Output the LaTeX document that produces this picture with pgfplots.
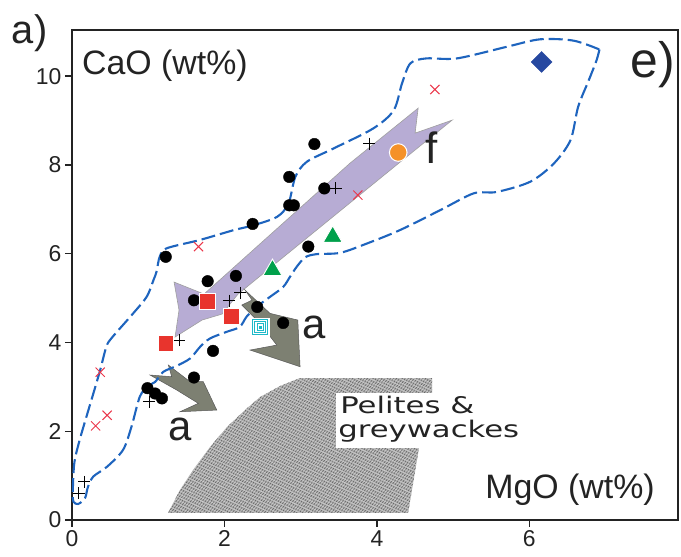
\documentclass[border=0pt]{standalone}
\usepackage{fontspec}
\setmainfont{Liberation Sans}
\newfontfamily\widefont{DejaVu Sans}
\usepackage{graphicx}
\usepackage{pgfplots}
\pgfplotsset{compat=1.18}
\usetikzlibrary{patterns.meta}

\definecolor{envblue}{RGB}{30,100,190}
\definecolor{bandpurple}{RGB}{183,172,212}
\definecolor{arrowgray}{RGB}{125,128,114}
\definecolor{xred}{RGB}{235,55,75}
\definecolor{sqred}{RGB}{232,52,45}
\definecolor{trigreen}{RGB}{0,160,75}
\definecolor{dotorange}{RGB}{245,145,40}
\definecolor{diamblue}{RGB}{38,72,160}
\definecolor{ringcyan}{RGB}{30,185,200}
\definecolor{ink}{RGB}{35,35,35}

\begin{document}
\begin{tikzpicture}
\begin{axis}[
  width=606bp, height=490bp, scale only axis,
  xmin=0, xmax=7.95, ymin=0, ymax=11.04,
  xtick={0,2,4,6}, ytick={0,2,4,6,8,10},
  tick pos=left, tick align=outside, major tick length=7bp,
  axis line style={line width=1.4bp, draw=ink},
  tick style={line width=1.4bp, draw=ink},
  ticklabel style={font=\fontsize{23}{23}\selectfont, text=ink},
  /pgf/number format/assume math mode=true,
  clip=false,
]
\coordinate (bbsw) at (rel axis cs:0,0);
\coordinate (bbne) at (rel axis cs:1,1);

% pelites & greywackes field, mottled fill
\addplot[draw=none, fill=black!30,
  postaction={pattern={Lines[angle=55,distance=2.4pt,line width=0.6pt]}, pattern color=black!62},
  postaction={pattern={Lines[angle=-25,distance=3.1pt,line width=0.7pt]}, pattern color=white!80!black}]
  coordinates {(1.260,0.158) (1.417,0.676) (1.588,1.126) (1.811,1.644) (2.034,2.095)
    (2.270,2.477) (2.467,2.770) (2.730,3.018) (2.992,3.198) (4.724,3.198)
    (4.724,2.860) (4.554,1.644) (4.409,0.158)} -- cycle;
\addplot[draw=none, fill=white]
  coordinates {(3.465,2.860) (4.90,2.860) (4.90,1.622) (3.465,1.622)} -- cycle;

% trend f
\addplot[draw=gray!75, line width=0.6bp, fill=bandpurple]
  coordinates {(4.541,9.279) (3.648,8.041) (1.732,5.090) (1.339,5.360) (1.404,4.730)
    (1.352,4.122) (1.706,4.505) (1.969,4.640) (2.178,5.090) (4.304,8.063)
    (4.987,9.009) (4.501,8.716)} -- cycle;

% trends a
\addplot[draw=gray!70!black, line width=0.5bp, fill=arrowgray]
  coordinates {(2.270,5.180) (2.598,4.655) (2.962,4.505) (2.992,3.453) (2.336,3.829)
    (2.686,3.941) (2.467,4.430) (2.227,4.842) (2.362,4.955)} -- cycle;
\addplot[draw=gray!70!black, line width=0.5bp, fill=arrowgray]
  coordinates {(1.264,3.491) (1.549,3.115) (1.723,3.115) (1.899,2.477) (1.417,2.439)
    (1.657,2.628) (1.374,2.928) (1.024,3.266) (1.308,3.228)} -- cycle;

% field e
\addplot[envblue, line width=2.1bp, smooth, dash pattern=on 14bp off 5bp]
  coordinates {(6.92,10.60) (6.88,10.35) (6.78,9.91) (6.64,9.31) (6.54,8.56) (6.32,8.03)
    (6.01,7.62) (5.57,7.39) (5.27,7.36) (4.83,6.98) (4.30,6.53) (3.87,6.23)
    (3.52,6.02) (3.21,5.99) (3.06,5.92) (2.95,5.71) (2.86,5.48) (2.77,5.25)
    (2.60,5.03) (2.42,4.80) (2.29,4.58) (2.20,4.35) (2.03,4.24) (1.81,4.09)
    (1.68,3.90) (1.55,3.64) (1.37,3.47) (1.20,3.34) (1.09,3.11) (1.00,3.02)
    (0.89,2.78) (0.78,2.10) (0.67,1.58) (0.46,1.20) (0.28,0.98) (0.21,0.75)
    (0.17,0.49) (0.08,0.36) (0.02,0.41) (0.01,0.60) (0.03,1.28) (0.10,1.80)
    (0.19,2.33) (0.28,2.85) (0.37,3.38) (0.45,3.90) (0.52,4.10) (0.80,4.65)
    (0.98,5.03) (1.07,5.41) (1.11,5.60) (1.15,5.93) (1.24,6.12) (1.68,6.31)
    (2.12,6.53) (2.38,6.64) (2.69,6.83) (2.84,7.13) (2.93,7.73) (3.08,8.07)
    (3.43,8.37) (3.95,8.82) (4.22,9.23) (4.33,9.84) (4.44,10.29) (4.65,10.40)
    (5.05,10.40) (5.70,10.66) (6.14,10.83) (6.58,10.80) (6.92,10.60)};

% samples
\addplot[only marks, mark=*, mark size=5.8bp, black] coordinates {
  (1.23,5.93) (1.78,5.38) (2.15,5.50) (1.60,4.95) (2.43,4.80) (2.77,4.44)
  (1.85,3.81) (1.60,3.21) (0.99,2.97) (1.09,2.85) (1.18,2.74) (2.37,6.67)
  (2.85,7.09) (2.91,7.09) (2.85,7.73) (3.18,8.47) (3.31,7.47) (3.10,6.16)};
\addplot[only marks, mark=+, mark size=6bp, black, line width=0.9bp] coordinates {
  (3.46,7.47) (3.90,8.48) (2.06,4.94) (2.21,5.12) (1.41,4.05) (1.01,2.66)
  (0.16,0.86) (0.09,0.60)};
\addplot[only marks, mark=x, mark size=6.5bp, xred, line width=1bp] coordinates {
  (1.66,6.16) (4.76,9.70) (3.75,7.32) (0.37,3.33) (0.46,2.36) (0.31,2.12)};
\addplot[only marks, mark=square*, mark size=7.8bp, draw=white, fill=sqred, line width=0.9bp]
  coordinates {(1.78,4.92) (2.09,4.59) (1.23,3.98)};
\addplot[only marks, mark=triangle*, mark size=11bp, draw=white, fill=trigreen, line width=0.9bp]
  coordinates {(3.42,6.38) (2.63,5.63)};
\addplot[only marks, mark=*, mark size=8.8bp, draw=white, fill=dotorange, line width=1bp]
  coordinates {(4.28,8.28)};
\addplot[only marks, mark=square*, mark options={rotate=45}, mark size=7.4bp,
  draw=diamblue, fill=diamblue] coordinates {(6.16,10.32)};
\addplot[only marks, mark=square*, mark size=9bp, draw=white, fill=white]
  coordinates {(2.47,4.35)};
\addplot[only marks, mark=square, mark size=7.6bp, ringcyan, line width=0.9bp]
  coordinates {(2.47,4.35)};
\addplot[only marks, mark=square, mark size=5.4bp, ringcyan, line width=0.9bp]
  coordinates {(2.47,4.35)};
\addplot[only marks, mark=square, mark size=3.2bp, ringcyan, line width=0.9bp]
  coordinates {(2.47,4.35)};
\addplot[only marks, mark=square*, mark size=1.2bp, ringcyan]
  coordinates {(2.47,4.35)};

% labels
\node[anchor=base west, inner sep=0pt, text=ink, font=\fontsize{34}{34}\selectfont]
  at (axis cs:0.131,10.045) {CaO (wt\%)};
\node[anchor=base west, inner sep=0pt, text=ink, font=\fontsize{34}{34}\selectfont]
  at (axis cs:5.42,0.495) {MgO (wt\%)};
\node[anchor=base west, inner sep=0pt, text=ink, font=\fontsize{40}{40}\selectfont]
  at (axis cs:-0.791,10.736) {a)};
\node[anchor=base west, inner sep=0pt, text=ink, font=\fontsize{50}{50}\selectfont]
  at (axis cs:7.323,9.977) {e)};
\node[anchor=base west, inner sep=0pt, text=ink, font=\fontsize{44}{44}\selectfont]
  at (axis cs:4.633,8.03) {f};
\node[anchor=base west, inner sep=0pt, text=ink, font=\fontsize{42}{42}\selectfont]
  at (axis cs:3.027,4.092) {a};
\node[anchor=base west, inner sep=0pt, text=ink, font=\fontsize{42}{42}\selectfont]
  at (axis cs:1.264,1.802) {a};
\node[anchor=base west, inner sep=0pt, text=ink, font=\widefont\fontsize{23}{23}\selectfont]
  at (axis cs:3.517,2.410) {\scalebox{1.34}[1]{Pelites \&}};
\node[anchor=base west, inner sep=0pt, text=ink, font=\widefont\fontsize{23}{23}\selectfont]
  at (axis cs:3.491,1.869) {\scalebox{1.34}[1]{greywackes}};
\end{axis}
\pgfresetboundingbox
\path[use as bounding box] ([shift={(-72bp,-37bp)}]bbsw) rectangle ([shift={(3bp,30bp)}]bbne);
\end{tikzpicture}
\end{document}
